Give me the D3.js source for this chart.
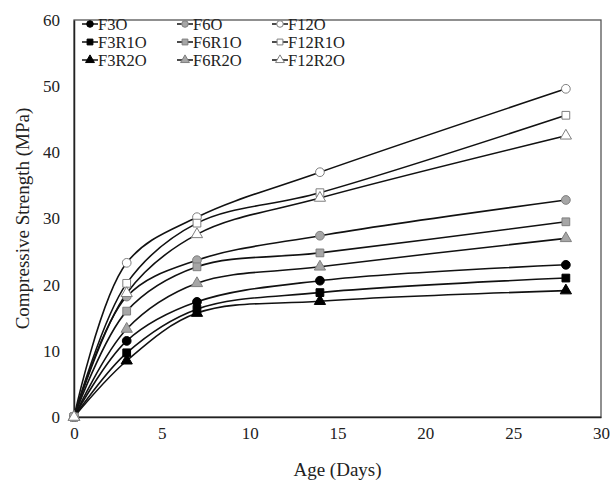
<!DOCTYPE html>
<html>
<head>
<meta charset="utf-8">
<script src="https://cdn.jsdelivr.net/npm/d3@7"></script>
<style>
  body { margin: 0; background: #fff; }
  svg text { font-family: "Liberation Serif", "DejaVu Serif", serif; fill: #222; }
</style>
</head>
<body>
<div id="chart"></div>
<script>
// Age values (days)
const ages = [0, 3, 7, 14, 28];

// Compressive strength (MPa) per mix
const seriesNames = ['F3O', 'F3R1O', 'F3R2O', 'F6O', 'F6R1O', 'F6R2O', 'F12O', 'F12R1O', 'F12R2O'];
const F3O    = [0, 11.5, 17.4, 20.6, 23.0];
const F3R1O  = [0, 9.7, 16.3, 18.8, 21.0];
const F3R2O  = [0, 8.5, 15.7, 17.5, 19.1];
const F6O    = [0, 18.2, 23.7, 27.4, 32.8];
const F6R1O  = [0, 16.0, 22.7, 24.8, 29.5];
const F6R2O  = [0, 13.3, 20.2, 22.7, 27.0];
const F12O   = [0, 23.3, 30.2, 37.0, 49.6];
const F12R1O = [0, 20.2, 29.3, 33.9, 45.6];
const F12R2O = [0, 18.7, 27.6, 33.1, 42.5];
const seriesValues = [F3O, F3R1O, F3R2O, F6O, F6R1O, F6R2O, F12O, F12R1O, F12R2O];

const xTicks = [0, 5, 10, 15, 20, 25, 30];
const yTicks = [0, 10, 20, 30, 40, 50, 60];

const serif = '"Liberation Serif", "DejaVu Serif", serif';

// style per series: fill group and marker shape
const fills = { F3: '#000', F6: '#a6a6a6', F12: '#fff' };
const strokes = { F3: '#000', F6: '#7f7f7f', F12: '#7f7f7f' };
function group(name) { return name.match(/^F\d+/)[0]; }
function shape(name) {
  if (name.includes('R1')) return d3.symbolSquare;
  if (name.includes('R2')) return d3.symbolTriangle;
  return d3.symbolCircle;
}

const width = 613, height = 485;
const margin = { top: 20, right: 12, bottom: 68, left: 74 };
const innerW = width - margin.left - margin.right;
const innerH = height - margin.top - margin.bottom;

const svg = d3.select('#chart').append('svg')
  .attr('width', width)
  .attr('height', height);

const g = svg.append('g')
  .attr('transform', `translate(${margin.left},${margin.top})`);

const x = d3.scaleLinear().domain([0, 30]).range([0, innerW]);
const y = d3.scaleLinear().domain([0, 60]).range([innerH, 0]);

// frame
g.append('rect')
  .attr('width', innerW).attr('height', innerH)
  .attr('fill', 'none').attr('stroke', '#555').attr('stroke-width', 1.3);

// axes
const xAxis = g.append('g')
  .attr('transform', `translate(0,${innerH})`)
  .call(d3.axisBottom(x).tickValues(xTicks).tickSize(0).tickPadding(10));
const yAxis = g.append('g')
  .call(d3.axisLeft(y).tickValues(yTicks).tickSize(0).tickPadding(14));
[xAxis, yAxis].forEach(a => {
  a.attr('font-family', serif).attr('font-size', 17);
  a.select('.domain').attr('stroke', '#222').attr('stroke-width', 1.5);
  a.selectAll('text')
    .attr('fill', '#222')
    .style('font-family', serif)
    .style('font-size', '17px');
});

// axis titles
svg.append('text')
  .attr('x', margin.left + innerW / 2)
  .attr('y', 476)
  .attr('text-anchor', 'middle')
  .style('font-size', '19px')
  .text('Age (Days)');

svg.append('text')
  .attr('transform', `translate(29,${margin.top + innerH / 2}) rotate(-90)`)
  .attr('text-anchor', 'middle')
  .style('font-size', '19px')
  .text('Compressive Strength (MPa)');

// lines
const line = d3.line()
  .x((d, i) => x(ages[i]))
  .y(d => y(d))
  .curve(d3.curveCatmullRom.alpha(0.5));

const symbol = d3.symbol();

seriesNames.forEach((name, si) => {
  const vals = seriesValues[si];
  g.append('path')
    .datum(vals)
    .attr('fill', 'none')
    .attr('stroke', '#111')
    .attr('stroke-width', 1.6)
    .attr('d', line);
});

seriesNames.forEach((name, si) => {
  const vals = seriesValues[si];
  const gr = group(name);
  const sh = shape(name);
  g.selectAll(null)
    .data(vals)
    .enter()
    .append('path')
    .attr('transform', (d, i) => `translate(${x(ages[i])},${y(d)})`)
    .attr('d', symbol.type(sh).size(sh === d3.symbolTriangle ? 55 : 60)())
    .attr('fill', fills[gr])
    .attr('stroke', strokes[gr])
    .attr('stroke-width', 1);
});

// legend: columns F3 / F6 / F12, rows O / R1O / R2O
const legendCols = [82, 177, 272];
const legendRows = [24, 42, 60];
seriesNames.forEach((name, si) => {
  const col = legendCols[Math.floor(si / 3)];
  const row = legendRows[si % 3];
  const gr = group(name);
  const sh = shape(name);
  const lg = svg.append('g').attr('transform', `translate(${col},${row})`);
  lg.append('line')
    .attr('x1', 0).attr('x2', 16).attr('y1', 0).attr('y2', 0)
    .attr('stroke', '#111').attr('stroke-width', 1.5);
  lg.append('path')
    .attr('transform', 'translate(8,0)')
    .attr('d', symbol.type(sh).size(34)())
    .attr('fill', fills[gr])
    .attr('stroke', strokes[gr])
    .attr('stroke-width', 1);
  lg.append('text')
    .attr('x', 16).attr('y', 5.5)
    .style('font-size', '16.5px')
    .text(name);
});
</script>
</body>
</html>
